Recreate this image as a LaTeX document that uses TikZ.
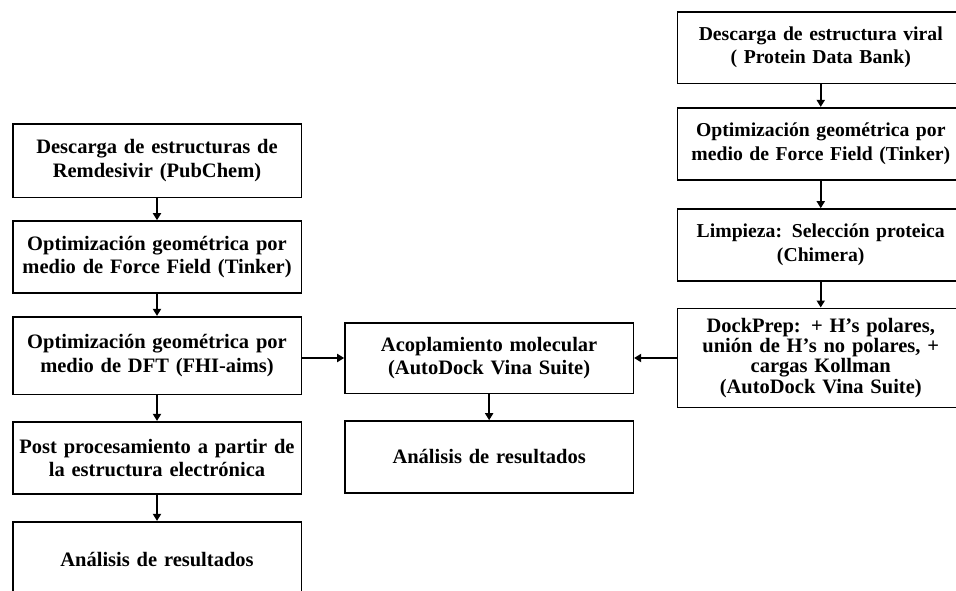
\documentclass[tikz,border=0pt]{standalone}
\usepackage{fontspec}
\setmainfont{Liberation Serif}
\usetikzlibrary{arrows.meta}
\begin{document}
\begin{tikzpicture}[x=1pt,y=-1pt,
  stepbox/.style={draw=black, line width=1.6pt, rectangle, inner sep=0pt,
    align=center, font=\bfseries\fontsize{20.5}{23.3}\selectfont},
  lbox/.style={stepbox, minimum width=288.6pt, text width=284pt},
  mbox/.style={stepbox, minimum width=288.3pt, text width=284pt},
  rbox/.style={stepbox, minimum width=286.5pt, text width=282pt,
    font=\bfseries\fontsize{19.7}{23.3}\selectfont},
  arr/.style={line width=1.8pt, -{Triangle[length=7pt,width=8pt]}}]
\useasboundingbox (0,0) rectangle (956,590);
\fill[white] (0,0) rectangle (956,590);
\clip (0,0) rectangle (956,590);
% left column
\node[lbox, minimum height=73.3pt] (L1) at (157,160.65) {Descarga de estructuras de\\Remdesivir (PubChem)};
\node[lbox, minimum height=71.7pt] (L2) at (157,256.85) {Optimización geométrica por\\medio de Force Field (Tinker)};
\node[lbox, minimum height=77.6pt] (L3) at (157,355.5) {Optimización geométrica por\\medio de DFT (FHI-aims)};
\node[lbox, minimum height=72.3pt] (L4) at (157,457.85) {Post procesamiento a partir de\\la estructura electrónica};
\node[lbox, minimum height=76pt] (L5) at (157,559.7) {Análisis de resultados};
% middle column
\node[mbox, minimum height=70.6pt] (M1) at (489.15,358) {Acoplamiento molecular\\(AutoDock Vina Suite)};
\node[mbox, minimum height=71.7pt] (M2) at (489.15,456.85) {Análisis de resultados};
% right column (right edges run off the page, as in the reference)
\node[rbox, minimum height=71.6pt] (R1) at (820.75,47.5) {Descarga de estructura viral\\( Protein Data Bank)};
\node[rbox, minimum height=72.3pt] (R2) at (820.75,143.85) {Optimización geométrica por\\medio de Force Field (Tinker)};
\node[rbox, minimum height=71.7pt] (R3) at (820.75,244.85) {Limpieza: Selección proteica\\(Chimera)};
\node[rbox, minimum height=99pt, font=\bfseries\fontsize{20.5}{20.3}\selectfont] (R4) at (820.75,357.8) {DockPrep: + H’s polares,\\unión de H’s no polares, +\\cargas Kollman\\(AutoDock Vina Suite)};
% connectors
\draw[arr] (L1) -- (L2);
\draw[arr] (L2) -- (L3);
\draw[arr] (L3) -- (L4);
\draw[arr] (L4) -- (L5);
\draw[arr] (M1) -- (M2);
\draw[arr] (R1) -- (R2);
\draw[arr] (R2) -- (R3);
\draw[arr] (R3) -- (R4);
\draw[arr] (L3.east |- M1.west) -- (M1.west);
\draw[arr] (R4.west |- M1.east) -- (M1.east);
\end{tikzpicture}
\end{document}
